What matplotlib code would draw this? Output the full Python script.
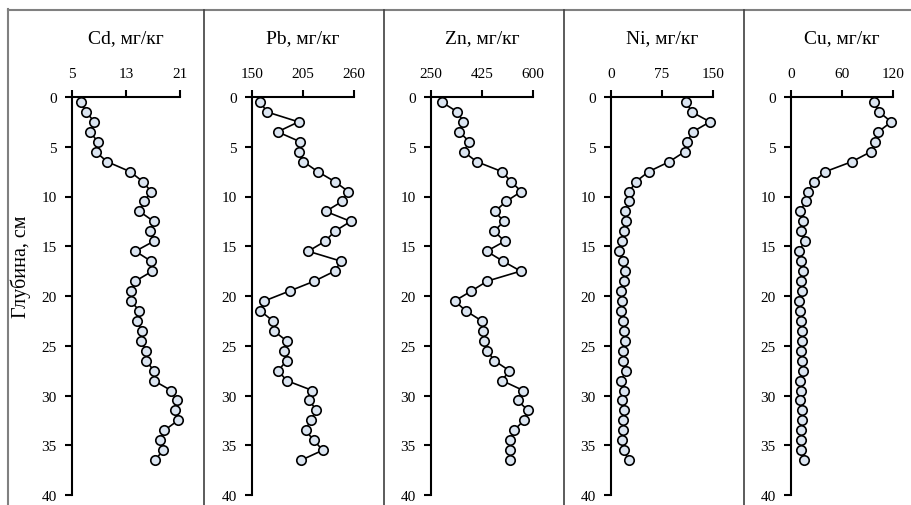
import numpy as np
import matplotlib
matplotlib.use("Agg")
import matplotlib.pyplot as plt
from matplotlib.lines import Line2D

plt.rcParams['font.family'] = ['Liberation Serif', 'DejaVu Serif']

# depth of sample midpoints, cm
depth = [0.5 + i for i in range(37)]

cd = [6.3, 7.1, 8.3, 7.7, 8.8, 8.5, 10.2, 13.6, 15.5, 16.7, 15.7, 15.0, 17.1,
      16.6, 17.1, 14.4, 16.7, 16.9, 14.4, 13.8, 13.7, 15.0, 14.7, 15.3, 15.2,
      16.0, 16.0, 17.1, 17.1, 19.7, 20.5, 20.2, 20.7, 18.7, 18.0, 18.5, 17.3]
pb = [159.0, 166.1, 200.2, 177.6, 202.0, 200.5, 205.5, 220.9, 239.2, 253.9,
      247.1, 229.5, 256.4, 239.2, 228.8, 210.6, 246.0, 239.2, 217.4, 190.5,
      163.3, 159.0, 172.6, 173.3, 187.3, 184.0, 187.3, 178.3, 187.3, 215.2,
      212.0, 219.5, 213.1, 207.7, 216.6, 226.3, 203.0]
zn = [286.6, 340.4, 361.0, 347.2, 381.5, 362.0, 406.7, 493.6, 524.5, 560.0,
      507.4, 469.6, 499.3, 467.3, 502.8, 441.0, 497.0, 557.7, 443.3, 388.4,
      331.2, 370.1, 423.9, 428.4, 430.7, 443.3, 467.3, 518.8, 493.6, 566.8,
      547.4, 582.8, 569.1, 534.8, 522.2, 521.1, 522.2]
ni = [110.8, 118.6, 145.6, 120.1, 112.3, 108.3, 85.8, 55.4, 36.8, 27.0, 26.0,
      20.1, 22.5, 19.6, 15.7, 11.3, 18.1, 20.1, 18.6, 14.7, 15.7, 14.7, 18.1,
      18.6, 20.1, 18.1, 18.1, 22.5, 14.2, 19.6, 16.2, 19.1, 18.1, 18.1, 16.2,
      18.6, 26.0]
cu = [97.6, 103.5, 118.0, 102.7, 98.8, 94.0, 71.6, 40.5, 26.8, 20.5, 17.3,
      10.6, 14.6, 11.8, 16.1, 9.4, 11.8, 14.6, 11.4, 12.6, 9.8, 10.2, 11.8,
      12.6, 13.4, 12.2, 12.6, 14.6, 10.6, 12.2, 10.2, 12.6, 12.6, 11.4, 11.4,
      12.2, 15.7]

titles = ["Cd, мг/кг", "Pb, мг/кг", "Zn, мг/кг", "Ni, мг/кг", "Cu, мг/кг"]
series = [cd, pb, zn, ni, cu]
xticks = [[5, 13, 21], [150, 205, 260], [250, 425, 600], [0, 75, 150], [0, 60, 120]]

W, H = 912, 506
fig = plt.figure(figsize=(W / 100, H / 100), dpi=100)

# axes left/right edges in pixels
ax_px = [(72, 180), (252, 354), (431, 533), (611, 713), (791, 893)]
top_px, bot_px = 98, 496

for (x0, x1), vals, title, ticks in zip(ax_px, series, titles, xticks):
    ax = fig.add_axes([x0 / W, 1 - bot_px / H, (x1 - x0) / W, (bot_px - top_px) / H])
    ax.plot(vals, depth, color='black', lw=1.2, marker='o', ms=6.8,
            mfc='#dbe5f1', mec='black', mew=1.2, clip_on=False, zorder=3)
    ax.set_xlim(ticks[0], ticks[-1])
    ax.set_ylim(40, 0)
    ax.set_xticks(ticks)
    ax.set_yticks(range(0, 41, 5))
    ax.xaxis.tick_top()
    for s in ['right', 'bottom']:
        ax.spines[s].set_visible(False)
    for s in ['left', 'top']:
        ax.spines[s].set_linewidth(1.5)
    ax.tick_params(axis='both', direction='out', length=5, width=1.5,
                   labelsize=11, pad=6)
    ax.tick_params(axis='x', pad=7)
    ax.set_facecolor('none')
    fig.text((x0 + x1) / 2 / W, 1 - 39 / H, title, ha='center', va='center',
             fontsize=14)

fig.text(21 / W, 1 - 267 / H, "Глубина, см", rotation=90, ha='center',
         va='center', fontsize=14.5)

# frame around the panels
fig.add_artist(Line2D([8 / W, 1], [1 - 10.5 / H] * 2, color='#808080', lw=1.5))
fig.add_artist(Line2D([8.5 / W] * 2, [0, 1 - 10 / H], color='#808080', lw=1.5))
for xd in [204, 384, 564, 744]:
    fig.add_artist(Line2D([xd / W] * 2, [0, 1 - 11 / H], color='#404040', lw=1.2))

fig.savefig("out.png", dpi=100)
